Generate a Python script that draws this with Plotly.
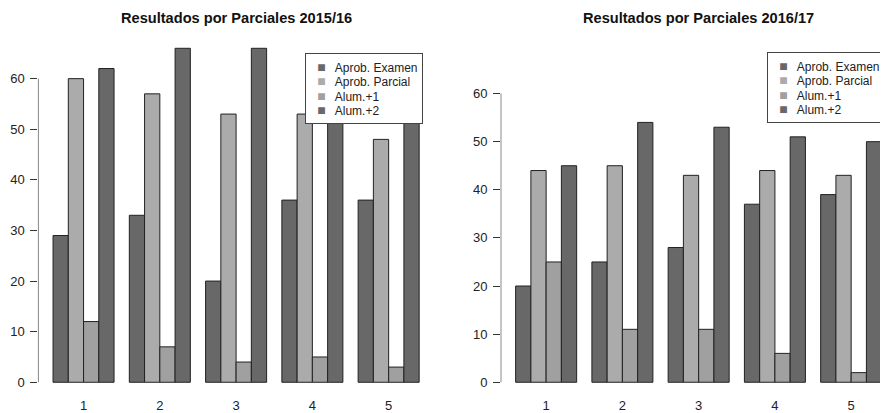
import plotly.graph_objects as go

# ---- data ----
parciales = [1, 2, 3, 4, 5]
series_names = ["Aprob. Examen", "Aprob. Parcial", "Alum.+1", "Alum.+2"]

# 2015/16
aprob_examen_1516 = [29, 33, 20, 36, 36]
aprob_parcial_1516 = [60, 57, 53, 53, 48]
alum1_1516 = [12, 7, 4, 5, 3]
alum2_1516 = [62, 66, 66, 62, 60]  # last two hidden behind legend (estimated)

# 2016/17
aprob_examen_1617 = [20, 25, 28, 37, 39]
aprob_parcial_1617 = [44, 45, 43, 44, 43]
alum1_1617 = [25, 11, 11, 6, 2]
alum2_1617 = [45, 54, 53, 51, 50]

y_ticks = [0, 10, 20, 30, 40, 50, 60]
titles = ["Resultados por Parciales 2015/16", "Resultados por Parciales 2016/17"]

colors = ["#686868", "#ababab", "#a0a0a0", "#686868"]
FONT = "Liberation Sans, Arial, sans-serif"

# page body has an 8px margin; the figure is offset by it
OFF = 8
W, H = 888 - OFF, 413 - OFF

fig = go.Figure()

panels = [
    ([aprob_examen_1516, aprob_parcial_1516, alum1_1516, alum2_1516], "x", "y"),
    ([aprob_examen_1617, aprob_parcial_1617, alum1_1617, alum2_1617], "x2", "y2"),
]
for vals_list, xa, ya in panels:
    for name, vals, col in zip(series_names, vals_list, colors):
        fig.add_trace(go.Bar(
            x=parciales, y=vals, name=name, xaxis=xa, yaxis=ya, showlegend=False,
            marker=dict(color=col, line=dict(color="#222222", width=1)),
        ))

def px_x(p):
    return (p - OFF) / W

def px_y(p):
    return (H - (p - OFF)) / H

ydom = [px_y(399.5), px_y(35.2)]

xaxis_common = dict(showline=False, showgrid=False, zeroline=False, ticks="",
                    tickvals=parciales, ticktext=[str(v) for v in parciales],
                    tickfont=dict(family=FONT, size=13, color="#222222"))
yaxis_common = dict(showline=False, showgrid=False, zeroline=False,
                    tickvals=y_ticks, ticks="outside", ticklen=7, tickcolor="#333333",
                    tickwidth=1, ticklabelstandoff=3,
                    tickfont=dict(family=FONT, size=13, color="#222222"),
                    domain=ydom)

fig.update_layout(
    width=W, height=H,
    margin=dict(l=0, r=0, t=0, b=0),
    paper_bgcolor="white", plot_bgcolor="white",
    barmode="group", bargap=0.2, bargroupgap=0,
    xaxis=dict(domain=[px_x(38.4), px_x(433.8)], range=[0.408, 5.592], anchor="y", **xaxis_common),
    xaxis2=dict(domain=[px_x(501.0), 1.0], range=[0.408, 5.483], anchor="y2", **xaxis_common),
    yaxis=dict(range=[-2.64, 68.64], anchor="x", **yaxis_common),
    yaxis2=dict(range=[-2.78, 72.18], anchor="x2", **yaxis_common),
    showlegend=False,
)

# axis lines spanning only the tick range (R style)
for xa, ya in [("x", "y"), ("x2", "y2")]:
    fig.add_shape(type="line", xref=f"{xa} domain", yref=ya,
                  x0=0, x1=0, y0=min(y_ticks), y1=max(y_ticks),
                  line=dict(color="#888888", width=1))

# titles
for t, cx in zip(titles, [(38.4 + 433.8) / 2, (501.0 + 896.3) / 2]):
    fig.add_annotation(text=f"<b>{t}</b>", xref="paper", yref="paper",
                       x=px_x(cx), y=px_y(18), xanchor="center", yanchor="middle",
                       showarrow=False, font=dict(family=FONT, size=14.6, color="#111111"))

# R-style legends (boxed, compact rows)
NB = "\u00a0"

def legend_text(trailing=""):
    lines = [
        f"{NB}{NB}<span style='color:{c};font-size:14px'>\u25a0</span>{NB}{NB}{NB}"
        f"<span style='font-size:12px'>{n}</span>"
        for n, c in zip(series_names, colors)
    ]
    lines[0] += trailing
    return "<br>".join(lines)

for lx, ly, trail in [(305, 53.3, ""), (767.3, 52.3, NB * 6)]:
    fig.add_annotation(text=legend_text(trail), xref="paper", yref="paper",
                       x=px_x(lx), y=px_y(ly), xanchor="left", yanchor="top",
                       align="left", showarrow=False,
                       bgcolor="white", bordercolor="#444444", borderwidth=1, borderpad=5,
                       font=dict(family=FONT, size=11, color="#222222"))

fig.write_html("out.html")
